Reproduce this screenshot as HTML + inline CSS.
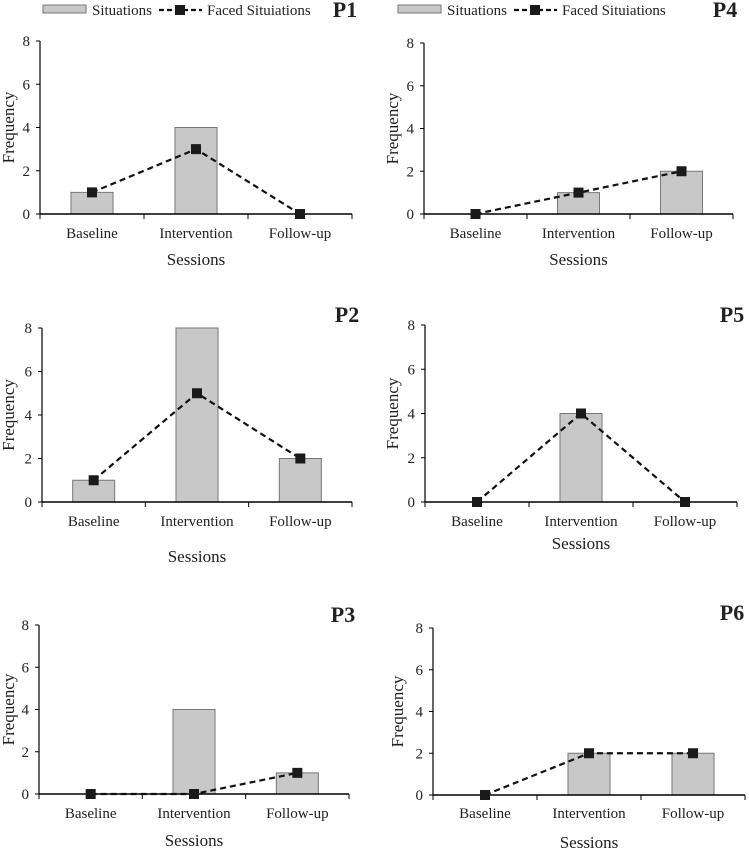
<!DOCTYPE html>
<html><head><meta charset="utf-8"><style>
body{margin:0;background:#fff}svg{display:block;font-family:"Liberation Serif",serif}
</style></head><body>
<svg id="c" width="749" height="850" viewBox="0 0 749 850"></svg>
<script>
const categories=["Baseline","Intervention","Follow-up"];
const yTicks=[0,2,4,6,8];
const panelNames=["P1","P4","P2","P5","P3","P6"];
const situationsP1=[1,4,0];const facedP1=[1,3,0];
const situationsP4=[0,1,2];const facedP4=[0,1,2];
const situationsP2=[1,8,2];const facedP2=[1,5,2];
const situationsP5=[0,4,0];const facedP5=[0,4,0];
const situationsP3=[0,4,1];const facedP3=[0,0,1];
const situationsP6=[0,2,2];const facedP6=[0,2,2];
const situations=[situationsP1,situationsP4,situationsP2,situationsP5,situationsP3,situationsP6];
const faced=[facedP1,facedP4,facedP2,facedP5,facedP3,facedP6];
const layout=[
 {x0:40,x1:352,yT:41,yB:214,catY:238,sesY:265,fx:14,px:345,py:17,legend:true,lx:43},
 {x0:424,x1:733,yT:43,yB:214,catY:238,sesY:265,fx:398,px:725,py:17,legend:true,lx:398},
 {x0:42,x1:352,yT:328,yB:502,catY:526,sesY:562,fx:14,px:347,py:322},
 {x0:425,x1:737,yT:325,yB:502,catY:526,sesY:549,fx:398,px:732,py:322},
 {x0:39,x1:349,yT:625,yB:794,catY:818,sesY:846,fx:14,px:343,py:622},
 {x0:433,x1:745,yT:628,yB:795,catY:818,sesY:848,fx:403,px:732,py:620}
];
const svg=document.getElementById('c');const NS="http://www.w3.org/2000/svg";
function mk(t,a,p){const e=document.createElementNS(NS,t);for(const k in a)e.setAttribute(k,a[k]);(p||svg).appendChild(e);return e;}
function txt(s,a,p){const e=mk('text',a,p);e.textContent=s;return e;}
layout.forEach((L,i)=>{
 const g=mk('g',{});
 
 
 const n=categories.length,bw=(L.x1-L.x0)/n;
 const xs=j=>L.x0+bw*(j+0.5);
 const ys=v=>L.yB-(v/8)*(L.yB-L.yT);
 situations[i].forEach((v,j)=>{if(v<=0)return;
  const r=mk('rect',{x:xs(j)-21,y:ys(v),width:42,height:L.yB-ys(v),fill:'#c8c8c8',stroke:'#777','stroke-width':1},g);
  
  });
 const ya=mk('line',{x1:L.x0,y1:L.yT,x2:L.x0,y2:L.yB,stroke:'#000','stroke-width':1.2},g);
 
 const xa=mk('line',{x1:L.x0,y1:L.yB,x2:L.x1,y2:L.yB,stroke:'#000','stroke-width':1.5},g);
 
 yTicks.forEach(t=>{mk('line',{x1:L.x0-4,y1:ys(t),x2:L.x0,y2:ys(t),stroke:'#000'},g);
  const tl=txt(String(t),{x:L.x0-10,y:ys(t)+5,'text-anchor':'end','font-size':15,fill:'#222'},g);
  });
 for(let j=0;j<=n;j++)mk('line',{x1:L.x0+bw*j,y1:L.yB,x2:L.x0+bw*j,y2:L.yB+5,stroke:'#000'},g);
 categories.forEach((c,j)=>{const t=txt(c,{x:xs(j),y:L.catY,'text-anchor':'middle','font-size':15,fill:'#222'},g);
  });
 const st=txt('Sessions',{x:(L.x0+L.x1)/2,y:L.sesY,'text-anchor':'middle','font-size':17,fill:'#222'},g);
 
 const fy=(L.yT+L.yB)/2;
 const ft=txt('Frequency',{x:L.fx,y:fy,'text-anchor':'middle','font-size':17,fill:'#222',transform:`rotate(-90 ${L.fx} ${fy})`},g);
 
 const pt=txt(panelNames[i],{x:L.px,y:L.py,'text-anchor':'middle','font-size':22,'font-weight':'bold',fill:'#222'},g);
 
 const pts=faced[i].map((v,j)=>xs(j)+','+ys(v)).join(' ');
 const pl=mk('polyline',{points:pts,fill:'none',stroke:'#111','stroke-width':2.2,'stroke-dasharray':'6,4'},g);
 
 faced[i].forEach((v,j)=>{const m=mk('rect',{x:xs(j)-5,y:ys(v)-5,width:10,height:10,fill:'#1a1a1a'},g);
  });
 if(L.legend){const lg=mk('g',{},g);
  
  mk('rect',{x:L.lx,y:5,width:43,height:8,fill:'#c8c8c8',stroke:'#777'},lg);
  txt('Situations',{x:L.lx+49,y:15,'font-size':15,fill:'#222'},lg);
  mk('line',{x1:L.lx+116,y1:10,x2:L.lx+159,y2:10,stroke:'#111','stroke-width':2.2,'stroke-dasharray':'5,3'},lg);
  mk('rect',{x:L.lx+132,y:5,width:10,height:10,fill:'#1a1a1a'},lg);
  txt('Faced Situiations',{x:L.lx+164,y:15,'font-size':15,fill:'#222'},lg);}
});
</script>
</body></html>
